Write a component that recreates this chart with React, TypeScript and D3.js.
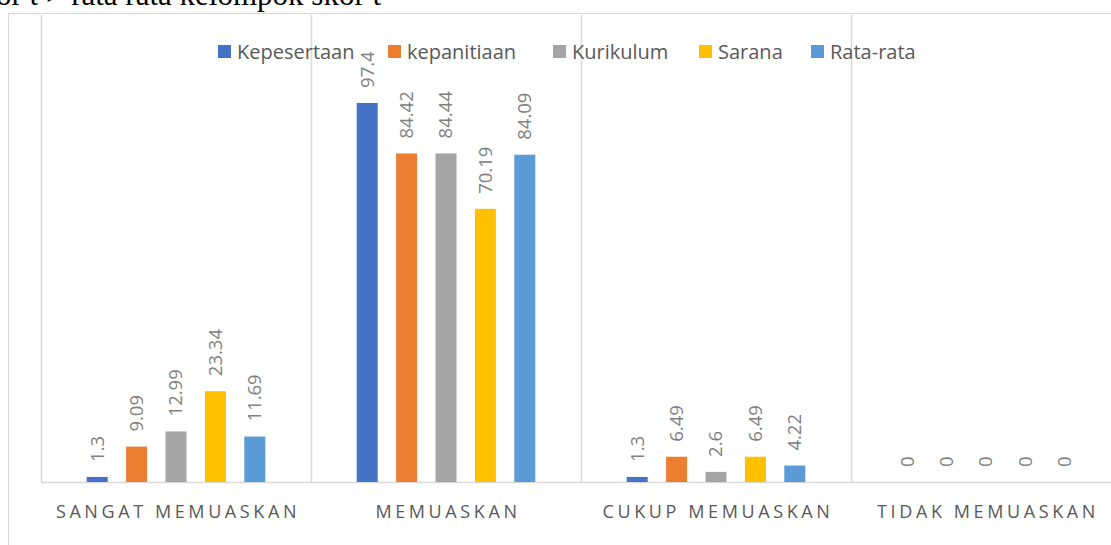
import React, { useEffect, useRef } from 'react';
import * as d3 from 'd3';

const categories = ['SANGAT MEMUASKAN', 'MEMUASKAN', 'CUKUP MEMUASKAN', 'TIDAK MEMUASKAN'];
const seriesNames = ['Kepesertaan', 'kepanitiaan', 'Kurikulum', 'Sarana', 'Rata-rata'];
const seriesColors = ['#4472C4', '#ED7D31', '#A5A5A5', '#FFC000', '#5B9BD5'];

const kepesertaan = [1.3, 97.4, 1.3, 0];
const kepanitiaan = [9.09, 84.42, 6.49, 0];
const kurikulum = [12.99, 84.44, 2.6, 0];
const sarana = [23.34, 70.19, 6.49, 0];
const rataRata = [11.69, 84.09, 4.22, 0];

const seriesValues = [kepesertaan, kepanitiaan, kurikulum, sarana, rataRata];

const W = 1111;
const H = 545;
const FONT = "'Open Sans', 'Noto Sans', sans-serif";

const App: React.FC = () => {
  const ref = useRef<SVGSVGElement>(null);

  useEffect(() => {
    const svg = d3.select(ref.current);
    svg.selectAll('*').remove();

    const plot = { left: 41, right: 1121, top: 15, bottom: 482 };

    // clipped caption line from the document above the chart
    svg
      .append('text')
      .attr('x', -4)
      .attr('y', 5)
      .attr('font-family', "'Liberation Serif', 'DejaVu Serif', serif")
      .attr('font-size', 31)
      .attr('fill', '#000')
      .text('or t > rata rata kelompok skor t');

    // chart frame
    svg
      .append('rect')
      .attr('x', 8.5)
      .attr('y', 13.5)
      .attr('width', W + 20)
      .attr('height', H)
      .attr('fill', '#fff')
      .attr('stroke', '#d9d9d9')
      .attr('stroke-width', 1);

    const x0 = d3.scaleBand<string>().domain(categories).range([plot.left, plot.right]);
    const x1 = d3
      .scaleBand<string>()
      .domain(seriesNames)
      .range([0, x0.bandwidth()])
      .paddingInner(0.467)
      .paddingOuter(1.16);
    const y = d3.scaleLinear().domain([0, 120]).range([plot.bottom, plot.top]);

    // vertical category separators
    svg
      .append('g')
      .selectAll('line')
      .data(categories)
      .enter()
      .append('line')
      .attr('x1', d => Math.round(x0(d)!) + 0.5)
      .attr('x2', d => Math.round(x0(d)!) + 0.5)
      .attr('y1', plot.top)
      .attr('y2', plot.bottom)
      .attr('stroke', '#d9d9d9')
      .attr('stroke-width', 1.5);

    // baseline
    svg
      .append('line')
      .attr('x1', plot.left)
      .attr('x2', plot.right)
      .attr('y1', plot.bottom + 0.5)
      .attr('y2', plot.bottom + 0.5)
      .attr('stroke', '#d9d9d9')
      .attr('stroke-width', 1.5);

    const groups = svg
      .append('g')
      .selectAll('g')
      .data(categories)
      .enter()
      .append('g')
      .attr('transform', d => `translate(${x0(d)},0)`);

    const cells = groups
      .selectAll('g')
      .data((_, ci) => seriesNames.map((name, si) => ({ name, si, value: seriesValues[si][ci] })))
      .enter()
      .append('g');

    cells
      .append('rect')
      .attr('x', d => x1(d.name)!)
      .attr('y', d => y(d.value))
      .attr('width', x1.bandwidth())
      .attr('height', d => y(0) - y(d.value))
      .attr('fill', d => seriesColors[d.si]);

    cells
      .append('text')
      .attr(
        'transform',
        d => `translate(${x1(d.name)! + x1.bandwidth() / 2},${y(d.value) - 15}) rotate(-90)`
      )
      .attr('dy', '0.35em')
      .attr('font-family', FONT)
      .attr('font-size', 18.5)
      .attr('fill', '#808080')
      .text(d => String(d.value));

    // category labels
    svg
      .append('g')
      .selectAll('text')
      .data(categories)
      .enter()
      .append('text')
      .attr('x', d => x0(d)! + x0.bandwidth() / 2 + 2)
      .attr('y', 518)
      .attr('text-anchor', 'middle')
      .attr('font-family', FONT)
      .attr('font-size', 18)
      .attr('letter-spacing', 3.6)
      .attr('fill', '#595959')
      .text(d => d);

    // legend
    const legendX = [218, 388, 553, 699, 811];
    const legend = svg
      .append('g')
      .selectAll('g')
      .data(seriesNames)
      .enter()
      .append('g')
      .attr('transform', (_, i) => `translate(${legendX[i]},45)`);

    legend
      .append('rect')
      .attr('width', 13)
      .attr('height', 13)
      .attr('fill', (_, i) => seriesColors[i]);

    legend
      .append('text')
      .attr('x', 19)
      .attr('y', 14)
      .attr('font-family', FONT)
      .attr('font-size', 20)
      .attr('fill', '#595959')
      .text(d => d);
  }, []);

  return (
    <div>
      <style>{'body{margin:0;overflow:hidden}'}</style>
      <svg ref={ref} width={W} height={H} style={{ display: 'block' }} />
    </div>
  );
};

export default App;
